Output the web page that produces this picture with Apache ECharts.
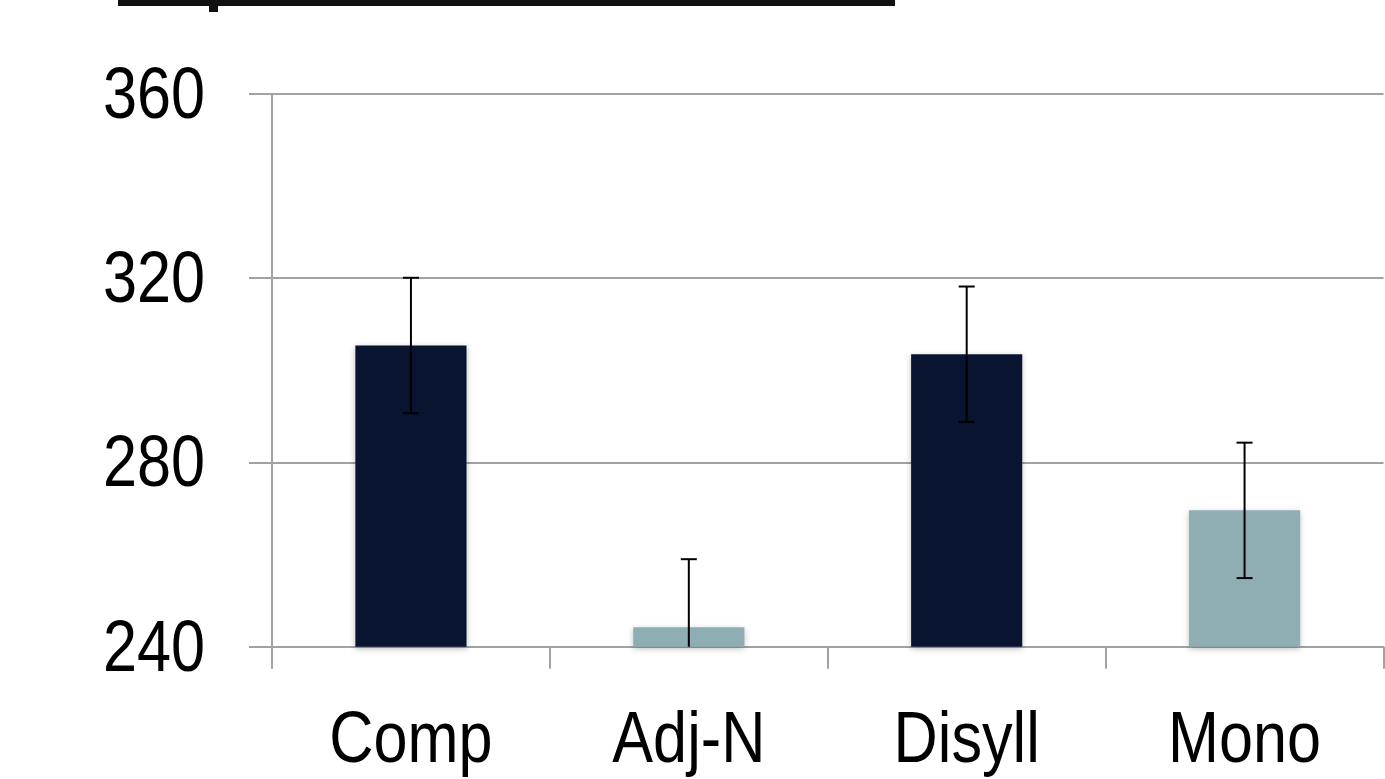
<!DOCTYPE html>
<html>
<head>
<meta charset="utf-8">
<script src="https://cdn.jsdelivr.net/npm/echarts@6/dist/echarts.min.js"></script>
<style>
  html, body { margin: 0; padding: 0; background: #ffffff; }
  #chart { width: 1385px; height: 779px; }
</style>
</head>
<body>
<div id="chart"></div>
<script>
// Mean values per condition, with the error half-width for each
const categories = ['Comp', 'Adj-N', 'Disyll', 'Mono'];
const means = [305.4, 244.2, 303.5, 269.6];
const errors = [14.7, 14.8, 14.7, 14.7];
const yTicks = [240, 280, 320, 360];

const DARK = '#091431';
const LIGHT = '#8faeb3';
const barColors = [DARK, LIGHT, DARK, LIGHT];

// Narrow sans look: regular Liberation Sans squeezed horizontally
const FONT_FAMILY = "'Liberation Sans', Arial, sans-serif";
const FONT_SIZE = 72;
const NARROW = 0.85;
const GRID_GRAY = '#a2a2a2';

const chart = echarts.init(document.getElementById('chart'), null, { renderer: 'canvas' });

const yMin = yTicks[0];
const yMax = yTicks[yTicks.length - 1];
const yStep = yTicks[1] - yTicks[0];

const decorations = [
  // underline of the heading running off the top edge
  { type: 'rect', left: 118, top: 0, shape: { width: 777, height: 6 }, style: { fill: '#111' } },
  { type: 'rect', left: 209, top: 6, shape: { width: 9, height: 6 }, style: { fill: '#111' } }
];

chart.setOption({
  backgroundColor: '#ffffff',
  animation: false,
  grid: { left: 272, right: 1.5, top: 94, bottom: 132.3, containLabel: false },
  xAxis: {
    type: 'category',
    data: categories,
    axisLine: { show: true, lineStyle: { color: GRID_GRAY, width: 2 } },
    axisTick: { show: true, length: 22, lineStyle: { color: GRID_GRAY, width: 2 } },
    axisLabel: { show: false }
  },
  yAxis: {
    type: 'value',
    min: yMin,
    max: yMax,
    interval: yStep,
    axisLine: { show: true, lineStyle: { color: GRID_GRAY, width: 2 } },
    axisTick: { show: true, length: 23, lineStyle: { color: GRID_GRAY, width: 2 } },
    splitLine: { show: true, lineStyle: { color: GRID_GRAY, width: 2 } },
    axisLabel: { show: false }
  },
  series: [
    {
      type: 'bar',
      barWidth: '40%',
      data: means.map((v, i) => ({
        value: v,
        itemStyle: {
          color: barColors[i],
          shadowBlur: 6,
          shadowColor: 'rgba(0,0,0,0.25)',
          shadowOffsetY: 2
        }
      })),
      z: 2
    },
    {
      type: 'custom',
      z: 3,
      data: means.map((m, i) => [i, m - errors[i], m + errors[i]]),
      renderItem: function (params, api) {
        const lo = Math.max(api.value(1), yMin);
        const hi = Math.min(api.value(2), yMax);
        const pHi = api.coord([api.value(0), hi]);
        const pLo = api.coord([api.value(0), lo]);
        const half = 8;
        const style = { stroke: '#000', lineWidth: 2, fill: null };
        const children = [
          { type: 'line', shape: { x1: pHi[0], y1: pHi[1], x2: pLo[0], y2: pLo[1] }, style: style },
          { type: 'line', shape: { x1: pHi[0] - half, y1: pHi[1], x2: pHi[0] + half, y2: pHi[1] }, style: style }
        ];
        if (api.value(1) > yMin) {
          children.push({ type: 'line', shape: { x1: pLo[0] - half, y1: pLo[1], x2: pLo[0] + half, y2: pLo[1] }, style: style });
        }
        return { type: 'group', children: children };
      }
    }
  ],
  graphic: decorations
});

// Axis labels placed from the axes' own pixel mapping, drawn narrowed
function axisLabelText(text, x, y, align, vAlign) {
  return {
    type: 'text',
    x: x,
    y: y,
    scaleX: NARROW,
    silent: true,
    style: {
      text: text,
      fill: '#000',
      fontFamily: FONT_FAMILY,
      fontSize: FONT_SIZE,
      textAlign: align,
      textVerticalAlign: vAlign,
      align: align,
      verticalAlign: vAlign
    }
  };
}

const labelEls = [];
const basePx = chart.convertToPixel({ gridIndex: 0 }, [0, yMin]);
const axisLeftX = basePx[0] - (chart.convertToPixel({ gridIndex: 0 }, [1, yMin])[0] - basePx[0]) / 2;
yTicks.forEach(function (t) {
  const py = chart.convertToPixel({ yAxisIndex: 0 }, t);
  labelEls.push(axisLabelText(String(t), axisLeftX - 67, py + 4, 'right', 'middle'));
});
categories.forEach(function (c, i) {
  const p = chart.convertToPixel({ gridIndex: 0 }, [i, yMin]);
  labelEls.push(axisLabelText(c, p[0], p[1] + 59, 'center', 'top'));
});

chart.setOption({ graphic: decorations.concat(labelEls) });
</script>
</body>
</html>
